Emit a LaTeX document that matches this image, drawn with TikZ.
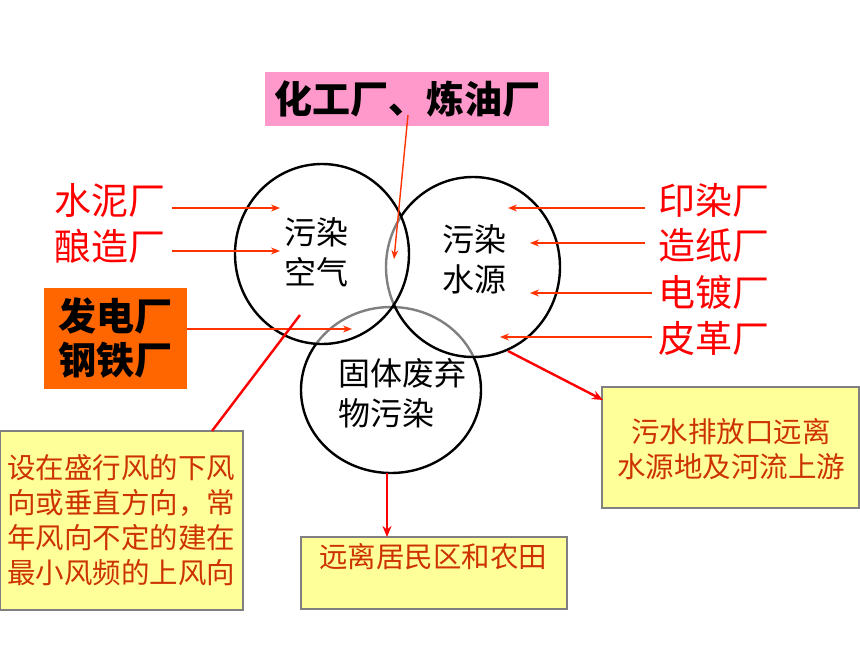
\documentclass[tikz,border=0pt]{standalone}
\usepackage{fontspec}
\setmainfont{Noto Sans CJK SC}
\usetikzlibrary{shapes.geometric,arrows.meta}
\definecolor{myred}{HTML}{FF0000}
\definecolor{arrred}{HTML}{FF3300}
\definecolor{yfill}{HTML}{FFFF99}
\definecolor{bgray}{HTML}{808080}
\definecolor{btext}{HTML}{CC3300}
\definecolor{pinkf}{HTML}{FF99CC}
\definecolor{orangef}{HTML}{FF6600}
\tikzset{
  circ/.style={ellipse, draw=black, line width=2.4pt, fill=white, fill opacity=0.5, text opacity=1, inner sep=0pt},
  ctext/.style={align=center, inner sep=0pt, font={\fontsize{32}{40}\selectfont}},
  redtxt/.style={text=myred, inner sep=0pt, font={\fontsize{37}{44}\selectfont}},
  boldbox/.style={inner sep=0pt, align=center, font={\fontsize{38}{44}\selectfont\bfseries}},
  ybox/.style={draw=bgray, line width=1.2pt, fill=yfill, inner sep=0pt},
  ytext/.style={text=btext, align=left, inner sep=0pt, font={\fontsize{28.5}{35}\selectfont}},
  arr/.style={draw=arrred, line width=1.4pt, -{Stealth[length=9pt,width=7pt]}},
  redline/.style={draw=myred, line width=2.4pt},
  redarr/.style={draw=myred, line width=2.4pt, -{Stealth[length=11pt,width=9pt]}},
}
\begin{document}
\begin{tikzpicture}[x=1pt,y=-1pt]
\useasboundingbox[fill=white] (0,0) rectangle (860,645);
% circles
\node[circ, minimum width=180, minimum height=166] (solid) at (391,390) {};
\node[circ, minimum width=174, minimum height=180] (water) at (473,267) {};
\node[circ, minimum width=174, minimum height=180] (air) at (322,254) {};
% circle texts
\node[ctext] (airt) at (316,252) {污染\\空气};
\node[ctext] (watert) at (474,259) {污染\\水源};
\node[ctext, align=left, anchor=west] (solidt) at (338,393) {固体废弃\\物污染};
% top pink box
\node[boldbox, fill=pinkf, minimum width=284, minimum height=54] (hg) at (407,99) {化工厂、炼油厂};
% left red texts
\node[redtxt] (sn) at (110,200) {水泥厂};
\node[redtxt] (nz) at (110,246) {酿造厂};
% orange box
\node[boldbox, fill=orangef, minimum width=143, minimum height=101] (fd) at (115.5,338.5) {发电厂\\钢铁厂};
% right red texts
\node[redtxt] (yr) at (714,200) {印染厂};
\node[redtxt] (zz) at (714,245) {造纸厂};
\node[redtxt] (dd) at (714,292) {电镀厂};
\node[redtxt] (pg) at (714,338) {皮革厂};
% yellow boxes
\node[ybox, minimum width=243, minimum height=179] (yb1) at (121.5,520.5) {};
\node[ytext] (yt1) at (121.5,520.5) {设在盛行风的下风\\向或垂直方向，常\\年风向不定的建在\\最小风频的上风向};
\node[ybox, minimum width=257, minimum height=121] (yb2) at (730.5,447.5) {};
\node[ytext, align=center] (yt2) at (731,449.5) {污水排放口远离\\水源地及河流上游};
\node[ybox, minimum width=266, minimum height=72] (yb3) at (434,573) {};
\node[ytext] (yt3) at (433,557) {远离居民区和农田};
% coordinates for arrow ends
\coordinate (s1) at (172,208); \coordinate (e1) at (280,208);
\coordinate (s2) at (172,251); \coordinate (e2) at (280,251);
\coordinate (s3) at (187,329); \coordinate (e3) at (352,329);
\coordinate (s4) at (645,208); \coordinate (e4) at (508,208);
\coordinate (s5) at (645,243); \coordinate (e5) at (530,243);
\coordinate (s6) at (652,293); \coordinate (e6) at (530,293);
\coordinate (s7) at (652,337); \coordinate (e7) at (500,337);
\coordinate (h1) at (408,115); \coordinate (h2) at (394,259);
\coordinate (l1) at (212,431); \coordinate (l2) at (300,315);
\coordinate (w1) at (508,351); \coordinate (w2) at (603,400);
\coordinate (d1) at (387,473); \coordinate (d2) at (387,537);
% arrows
\draw[arr] (s1) -- (e1);
\draw[arr] (s2) -- (e2);
\draw[arr] (s3) -- (e3);
\draw[arr] (s4) -- (e4);
\draw[arr] (s5) -- (e5);
\draw[arr] (s6) -- (e6);
\draw[arr] (s7) -- (e7);
\draw[arr] (h1) -- (h2);
\draw[redline] (l1) -- (l2);
\draw[redarr] (w1) -- (w2);
\draw[redarr] (d1) -- (d2);
\end{tikzpicture}
\end{document}
